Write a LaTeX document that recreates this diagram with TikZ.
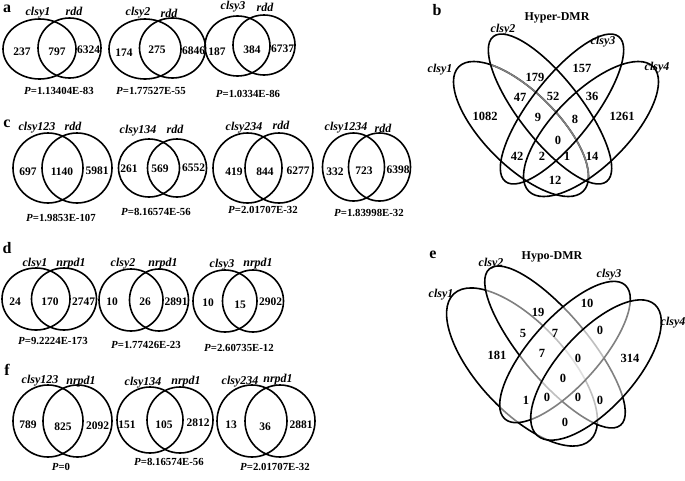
\documentclass[tikz,border=0pt]{standalone}
\usepackage{fontspec}
\setmainfont{Liberation Serif}
\begin{document}
\begin{tikzpicture}[x=1pt,y=-1pt,
  vline/.style={line width=1.6pt},
  num/.style={font=\bfseries\fontsize{11.5}{12}\selectfont,inner sep=0pt},
  pv/.style={font=\bfseries\fontsize{10.8}{12}\selectfont,inner sep=0pt},
  bnum/.style={font=\bfseries\fontsize{12.5}{13}\selectfont,inner sep=0pt},
  lab/.style={font=\bfseries\itshape\fontsize{12}{13}\selectfont,inner sep=0pt},
  pan/.style={font=\bfseries\fontsize{16}{17}\selectfont,inner sep=0pt},
  ttl/.style={font=\bfseries\fontsize{12}{13}\selectfont,inner sep=0pt}]
\useasboundingbox (0,0) rectangle (685,480);
% ---------------- panel a
\node[pan] (pa) at (7,9) {a};
\draw[vline] (39.5,49) ellipse [x radius=36.5pt, y radius=30pt];
\draw[vline] (69.5,48) ellipse [x radius=31.5pt, y radius=30pt];
\node[lab] (a1l) at (38,13) {clsy1};
\node[lab] (a1r) at (74,11) {rdd};
\node[num] (a1n1) at (22,52) {237};
\node[num] (a1n2) at (57,52) {797};
\node[num] (a1n3) at (88.5,50) {6324};
\node[pv] (a1p) at (59,91) {\textit{P}=1.13404E-83};
\draw[vline] (145,49) ellipse [x radius=36pt, y radius=30pt];
\draw[vline] (172.5,48) ellipse [x radius=33pt, y radius=30pt];
\node[lab] (a2l) at (138,13) {clsy2};
\node[lab] (a2r) at (169,13) {rdd};
\node[num] (a2n1) at (124,53) {174};
\node[num] (a2n2) at (157,50) {275};
\node[num] (a2n3) at (193.5,51) {6846};
\node[pv] (a2p) at (151,91) {\textit{P}=1.77527E-55};
\draw[vline] (237.5,46) ellipse [x radius=32.5pt, y radius=30pt];
\draw[vline] (264,45) ellipse [x radius=31pt, y radius=30pt];
\node[lab] (a3l) at (233,7) {clsy3};
\node[lab] (a3r) at (265,7) {rdd};
\node[num] (a3n1) at (217,52) {187};
\node[num] (a3n2) at (252,50) {384};
\node[num] (a3n3) at (282.5,49) {6737};
\node[pv] (a3p) at (248,94) {\textit{P}=1.0334E-86};
% ---------------- panel c
\node[pan] (pc) at (7,124) {c};
\draw[vline] (48,168) ellipse [x radius=35pt, y radius=35pt];
\draw[vline] (77,168) ellipse [x radius=35pt, y radius=35pt];
\node[lab] (c1l) at (37,128) {clsy123};
\node[lab] (c1r) at (73,126) {rdd};
\node[num] (c1n1) at (28,172) {697};
\node[num] (c1n2) at (62,172) {1140};
\node[num] (c1n3) at (97,171) {5981};
\node[pv] (c1p) at (61,218) {\textit{P}=1.9853E-107};
\draw[vline] (149,168) ellipse [x radius=30.5pt, y radius=29pt];
\draw[vline] (177,168) ellipse [x radius=29.5pt, y radius=29pt];
\node[lab] (c2l) at (138,131) {clsy134};
\node[lab] (c2r) at (175,129) {rdd};
\node[num] (c2n1) at (129,169) {261};
\node[num] (c2n2) at (160,169) {569};
\node[num] (c2n3) at (193.5,168) {6552};
\node[pv] (c2p) at (156,212) {\textit{P}=8.16574E-56};
\draw[vline] (247.5,168) ellipse [x radius=34.5pt, y radius=35pt];
\draw[vline] (279,168) ellipse [x radius=34pt, y radius=35pt];
\node[lab] (c3l) at (244,128) {clsy234};
\node[lab] (c3r) at (281,125) {rdd};
\node[num] (c3n1) at (234,172) {419};
\node[num] (c3n2) at (265,172) {844};
\node[num] (c3n3) at (298,171) {6277};
\node[pv] (c3p) at (263,210) {\textit{P}=2.01707E-32};
\draw[vline] (353.5,167) ellipse [x radius=31pt, y radius=34pt];
\draw[vline] (379.5,167) ellipse [x radius=31pt, y radius=34pt];
\node[lab] (c4l) at (346,128) {clsy1234};
\node[lab] (c4r) at (383,128) {rdd};
\node[num] (c4n1) at (335,172) {332};
\node[num] (c4n2) at (364,171) {723};
\node[num] (c4n3) at (398,170) {6398};
\node[pv] (c4p) at (369,213) {\textit{P}=1.83998E-32};
% ---------------- panel d
\node[pan] (pd) at (7,248) {d};
\draw[vline] (36,299) ellipse [x radius=34pt, y radius=31pt];
\draw[vline] (64,299) ellipse [x radius=32.5pt, y radius=31pt];
\node[lab] (d1l) at (35,264) {clsy1};
\node[lab] (d1r) at (71,264) {nrpd1};
\node[num] (d1n1) at (15,302) {24};
\node[num] (d1n2) at (50,302) {170};
\node[num] (d1n3) at (83.5,302) {2747};
\node[pv] (d1p) at (53,341) {\textit{P}=9.2224E-173};
\draw[vline] (131,300) ellipse [x radius=32pt, y radius=31pt];
\draw[vline] (159,300) ellipse [x radius=29.5pt, y radius=31pt];
\node[lab] (d2l) at (123,264) {clsy2};
\node[lab] (d2r) at (163,264) {nrpd1};
\node[num] (d2n1) at (112,302) {10};
\node[num] (d2n2) at (145,302) {26};
\node[num] (d2n3) at (176,302) {2891};
\node[pv] (d2p) at (146,345) {\textit{P}=1.77426E-23};
\draw[vline] (225,301) ellipse [x radius=32pt, y radius=31pt];
\draw[vline] (253,301) ellipse [x radius=30.5pt, y radius=31pt];
\node[lab] (d3l) at (222,265) {clsy3};
\node[lab] (d3r) at (258,264) {nrpd1};
\node[num] (d3n1) at (208,303) {10};
\node[num] (d3n2) at (240,305) {15};
\node[num] (d3n3) at (270.5,302) {2902};
\node[pv] (d3p) at (239,348) {\textit{P}=2.60735E-12};
% ---------------- panel f
\node[pan] (pf) at (7,370) {f};
\draw[vline] (48,421) ellipse [x radius=35pt, y radius=36pt];
\draw[vline] (77.5,421) ellipse [x radius=34.5pt, y radius=36pt];
\node[lab] (f1l) at (40,381) {clsy123};
\node[lab] (f1r) at (81,382) {nrpd1};
\node[num] (f1n1) at (28,425) {789};
\node[num] (f1n2) at (63,427) {825};
\node[num] (f1n3) at (97.5,426) {2092};
\node[pv] (f1p) at (61,467) {\textit{P}=0};
\draw[vline] (150,420) ellipse [x radius=33pt, y radius=33pt];
\draw[vline] (180,420) ellipse [x radius=33pt, y radius=33pt];
\node[lab] (f2l) at (143,383) {clsy134};
\node[lab] (f2r) at (186,382) {nrpd1};
\node[num] (f2n1) at (127,425) {151};
\node[num] (f2n2) at (164,425) {105};
\node[num] (f2n3) at (198,423) {2812};
\node[pv] (f2p) at (169,462) {\textit{P}=8.16574E-56};
\draw[vline] (252,421) ellipse [x radius=35pt, y radius=36pt];
\draw[vline] (280,421) ellipse [x radius=35pt, y radius=36pt];
\node[lab] (f3l) at (240,382) {clsy234};
\node[lab] (f3r) at (278,380) {nrpd1};
\node[num] (f3n1) at (231,425) {13};
\node[num] (f3n2) at (265,427) {36};
\node[num] (f3n3) at (301,425) {2881};
\node[pv] (f3p) at (275,467) {\textit{P}=2.01707E-32};
% ---------------- panel b
\node[pan] (pb) at (437,10) {b};
\node[ttl] (bt) at (557,18) {Hyper-DMR};
\draw[vline] (521,129) ellipse [x radius=88pt, y radius=37pt, rotate=-45];
\begin{scope}
  \clip (550,109) ellipse [x radius=92pt, y radius=31pt, rotate=-52];
  \draw[vline,gray] (521,129) ellipse [x radius=88pt, y radius=37pt, rotate=-45];
\end{scope}
\draw[vline] (550,109) ellipse [x radius=92pt, y radius=31pt, rotate=-52];
\draw[vline] (562,109) ellipse [x radius=92pt, y radius=31pt, rotate=52];
\draw[vline] (591,129) ellipse [x radius=88pt, y radius=37pt, rotate=45];
\node[lab] (b1l) at (440,70) {clsy1};
\node[lab] (b2l) at (503,30) {clsy2};
\node[lab] (b3l) at (603,42) {clsy3};
\node[lab] (b4l) at (657,68) {clsy4};
\node[bnum] (bn1) at (485,116) {1082};
\node[bnum] (bn2) at (535,77) {179};
\node[bnum] (bn3) at (582,68) {157};
\node[bnum] (bn4) at (622,116) {1261};
\node[bnum] (bn5) at (520,97) {47};
\node[bnum] (bn6) at (553,96) {52};
\node[bnum] (bn7) at (592,96) {36};
\node[bnum] (bn8) at (538,117) {9};
\node[bnum] (bn9) at (575,119) {8};
\node[bnum] (bn10) at (558,140) {0};
\node[bnum] (bn11) at (517,156) {42};
\node[bnum] (bn12) at (542,156) {2};
\node[bnum] (bn13) at (567,156) {1};
\node[bnum] (bn14) at (592,156) {14};
\node[bnum] (bn15) at (555,180) {12};
% ---------------- panel e
\node[pan] (pe) at (433,255) {e};
\node[ttl] (et) at (552,257) {Hypo-DMR};
\draw[vline] (522,367) ellipse [x radius=100pt, y radius=44pt, rotate=-47];
\fill[white,opacity=0.5] (555,347) ellipse [x radius=102pt, y radius=33pt, rotate=-50];
\draw[vline] (555,347) ellipse [x radius=102pt, y radius=33pt, rotate=-50];
\fill[white,opacity=0.5] (565,352) ellipse [x radius=90pt, y radius=34pt, rotate=48];
\draw[vline] (565,352) ellipse [x radius=90pt, y radius=34pt, rotate=48];
\fill[white,opacity=0.5] (596,370) ellipse [x radius=88pt, y radius=38pt, rotate=48];
\draw[vline] (596,370) ellipse [x radius=88pt, y radius=38pt, rotate=48];
\node[lab] (e1l) at (441,295) {clsy1};
\node[lab] (e2l) at (491,264) {clsy2};
\node[lab] (e3l) at (609,275) {clsy3};
\node[lab] (e4l) at (673,323) {clsy4};
\node[bnum] (en1) at (538,312) {19};
\node[bnum] (en2) at (587,303) {10};
\node[bnum] (en3) at (523,333) {5};
\node[bnum] (en4) at (555,333) {7};
\node[bnum] (en5) at (600,330) {0};
\node[bnum] (en6) at (497,355) {181};
\node[bnum] (en7) at (542,353) {7};
\node[bnum] (en8) at (578,358) {0};
\node[bnum] (en9) at (630,358) {314};
\node[bnum] (en10) at (563,378) {0};
\node[bnum] (en11) at (526,400) {1};
\node[bnum] (en12) at (547,397) {0};
\node[bnum] (en13) at (578,397) {0};
\node[bnum] (en14) at (600,400) {0};
\node[bnum] (en15) at (565,422) {0};
\end{tikzpicture}
\end{document}
